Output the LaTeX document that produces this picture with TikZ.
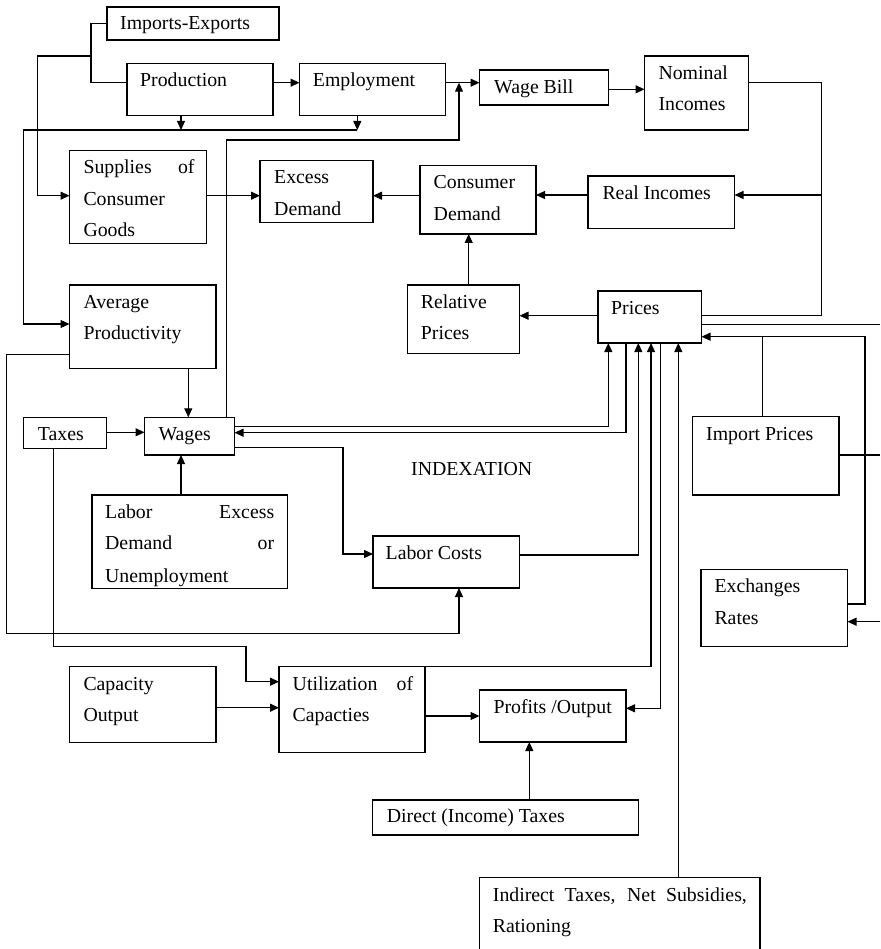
\documentclass[tikz,border=0pt]{standalone}
\usepackage{fontspec}
\setmainfont{Liberation Serif}
\usetikzlibrary{arrows.meta}
\newcommand{\fsz}{\fontsize{19.8}{24}\selectfont}
\newcommand{\mkbox}[5]{\node[box, minimum width=#4pt, minimum height=#5pt] (#1) at (#2,#3) {};}
\newcommand{\tline}[4]{\node[txt] (#1) at (#2,#3) {#4};}
\begin{document}
\begin{tikzpicture}[x=1pt,y=-1pt,
  box/.style={draw, line width=1.1pt, anchor=north west, inner sep=0pt, outer sep=0pt},
  txt/.style={anchor=base west, inner sep=0pt, font=\fsz},
  ln/.style={line width=1.1pt},
  arr/.style={ln, -{Triangle[length=9pt,width=8pt]}}]
\useasboundingbox (0,0) rectangle (880,949);
\fill[white] (0,0) rectangle (880,949);
% boxes
\mkbox{ie}{107}{7}{172}{33}
\mkbox{prod}{127}{63.3}{146}{52.4}
\mkbox{emp}{299.5}{63.3}{146}{52.4}
\mkbox{wb}{479.5}{70}{129}{35}
\mkbox{nom}{644.5}{56}{104}{74}
\mkbox{sup}{69.5}{150.7}{137}{92.6}
\mkbox{exd}{260}{160.7}{113}{61.6}
\mkbox{cd}{420}{165.7}{116}{68.3}
\mkbox{ri}{588}{176}{146.5}{52.3}
\mkbox{ap}{69.5}{285}{146.5}{83.3}
\mkbox{rp}{407.5}{285}{112}{68.3}
\mkbox{pr}{598}{291}{103.5}{52}
\mkbox{tax}{23.5}{417.3}{83}{31}
\mkbox{wag}{144.5}{417.3}{90}{37.7}
\mkbox{ip}{692.5}{416.7}{146.5}{78.3}
\mkbox{lxd}{92}{495}{195.5}{93.3}
\mkbox{lc}{373}{536}{146.5}{52}
\mkbox{exr}{701}{569.3}{146.5}{77.4}
\mkbox{cap}{69.5}{666.7}{146.5}{75.6}
\mkbox{util}{279}{666.5}{146}{85.8}
\mkbox{prof}{479.5}{690}{146.5}{52}
\mkbox{dt}{372.5}{800}{266}{35}
\mkbox{ind}{479.5}{877.3}{280.5}{100}
% texts
\tline{tie}{120}{30}{Imports-Exports}
\tline{tprod}{140}{86.7}{Production}
\tline{temp}{312.7}{86.7}{Employment}
\tline{twb}{494}{93.3}{Wage Bill}
\tline{tnom1}{658.3}{79.3}{Nominal}
\tline{tnom2}{658.3}{110.8}{Incomes}
\tline{tsup1}{83.3}{174}{\hbox to 111pt{Supplies of}}
\tline{tsup2}{83.3}{205.5}{Consumer}
\tline{tsup3}{83.3}{237}{Goods}
\tline{texd1}{274}{184}{Excess}
\tline{texd2}{274}{215.5}{Demand}
\tline{tcd1}{433.5}{189}{Consumer}
\tline{tcd2}{433.5}{220.5}{Demand}
\tline{tri}{602.3}{199.3}{Real Incomes}
\tline{tap1}{83.3}{308.3}{Average}
\tline{tap2}{83.3}{339.8}{Productivity}
\tline{trp1}{420.7}{308.3}{Relative}
\tline{trp2}{420.7}{339.8}{Prices}
\tline{tpr}{611}{314.3}{Prices}
\tline{ttax}{37.7}{440.3}{Taxes}
\tline{twag}{158.3}{440.3}{Wages}
\tline{tip}{706}{440.5}{Import Prices}
\tline{tlxd1}{105}{518.3}{\hbox to 169pt{Labor Excess}}
\tline{tlxd2}{105}{549.8}{\hbox to 169pt{Demand or}}
\begin{scope}
\clip (lxd.north west) rectangle (lxd.south east);
\tline{tlxd3}{105}{582.5}{Unemployment}
\end{scope}
\tline{tindex}{411}{475}{INDEXATION}
\tline{tlc}{385.5}{559.3}{Labor Costs}
\tline{texr1}{714.3}{592.5}{Exchanges}
\tline{texr2}{714.3}{624}{Rates}
\tline{tcap1}{83.3}{690}{Capacity}
\tline{tcap2}{83.3}{721.5}{Output}
\tline{tutil1}{292.5}{690}{\hbox to 120.5pt{Utilization of}}
\tline{tutil2}{292.5}{721.5}{Capacties}
\tline{tprof}{493.3}{713.3}{Profits /Output}
\tline{tdt}{386.7}{822.7}{Direct (Income) Taxes}
\tline{tind1}{492.7}{901}{\hbox to 254pt{Indirect Taxes, Net Subsidies,}}
\tline{tind2}{492.7}{932.5}{Rationing}
% junction coordinates
\coordinate (j1) at (91,56);
\coordinate (jp) at (357.3,130);
\coordinate (jw) at (459,82.7);
\coordinate (jn) at (821.7,195);
\coordinate (jip) at (762.7,336.7);
\coordinate (r1) at (880,324.3);
\coordinate (r2) at (880,455);
\coordinate (r3) at (880,621.7);
% connectors
\draw[ln] (ie.west) -| (91,82.7) -- (prod.west |- 0,82.7);
\draw[arr] (j1) -- (37.7,56) |- (sup.west |- 0,195.7);
\draw[arr] (prod.east |- 0,82.7) -- (emp.west |- 0,82.7);
\draw[arr] (emp.east |- 0,82.7) -- (wb.west |- 0,82.7);
\draw[arr] (wb.east |- 0,89.3) -- (nom.west |- 0,89.3);
\draw[arr] (181,0 |- prod.south) -- (181,130);
\draw[arr] (357.3,0 |- emp.south) -- (jp);
\draw[arr] (jp) -- (23.3,130) |- (ap.west |- 0,324);
\draw[arr] (226.7,0 |- wag.north) -- (226.7,140) -| (jw);
\draw[ln] (nom.east |- 0,82.7) -| (821.7,315.7) -- (pr.east |- 0,315.7);
\draw[arr] (jn) -- (ri.east |- 0,195);
\draw[arr] (ri.west |- 0,195) -- (cd.east |- 0,195);
\draw[arr] (cd.west |- 0,195.7) -- (exd.east |- 0,195.7);
\draw[arr] (sup.east |- 0,195.7) -- (exd.west |- 0,195.7);
\draw[arr] (468.7,0 |- rp.north) -- (468.7,0 |- cd.south);
\draw[arr] (pr.west |- 0,315.7) -- (rp.east |- 0,315.7);
\draw[ln] (pr.east |- 0,324.3) -- (r1);
\draw[arr] (exr.east |- 0,604) -| (865,336.7) -- (pr.east |- 0,336.7);
\draw[ln] (762.7,0 |- ip.north) -- (jip);
\draw[ln] (ip.east |- 0,455) -- (r2);
\draw[arr] (r3) -- (exr.east |- 0,621.7);
\draw[arr] (188.3,0 |- ap.south) -- (188.3,0 |- wag.north);
\draw[arr] (ap.west |- 0,354.3) -- (6.7,354.3) |- (459,633.3) -- (459,0 |- lc.south);
\draw[arr] (tax.east |- 0,432.3) -- (wag.west |- 0,432.3);
\draw[arr] (53.3,0 |- tax.south) |- (246,646.7) |- (util.west |- 0,681.7);
\draw[arr] (wag.east |- 0,426.7) -| (608.3,0 |- pr.south);
\draw[arr] (626,0 |- pr.south) |- (wag.east |- 0,432.7);
\draw[arr] (wag.east |- 0,447.7) -| (343,554) -- (lc.west |- 0,554);
\draw[arr] (181,0 |- lxd.north) -- (181,0 |- wag.south);
\draw[arr] (lc.east |- 0,555) -| (638.3,0 |- pr.south);
\draw[arr] (util.north east) -| (651,0 |- pr.south);
\draw[arr] (660.7,0 |- pr.south) |- (prof.east |- 0,708.3);
\draw[arr] (678.3,0 |- ind.north) -- (678.3,0 |- pr.south);
\draw[arr] (cap.east |- 0,707.7) -- (util.west |- 0,707.7);
\draw[arr] (util.east |- 0,716) -- (prof.west |- 0,716);
\draw[arr] (529.3,0 |- dt.north) -- (529.3,0 |- prof.south);
\end{tikzpicture}
\end{document}
